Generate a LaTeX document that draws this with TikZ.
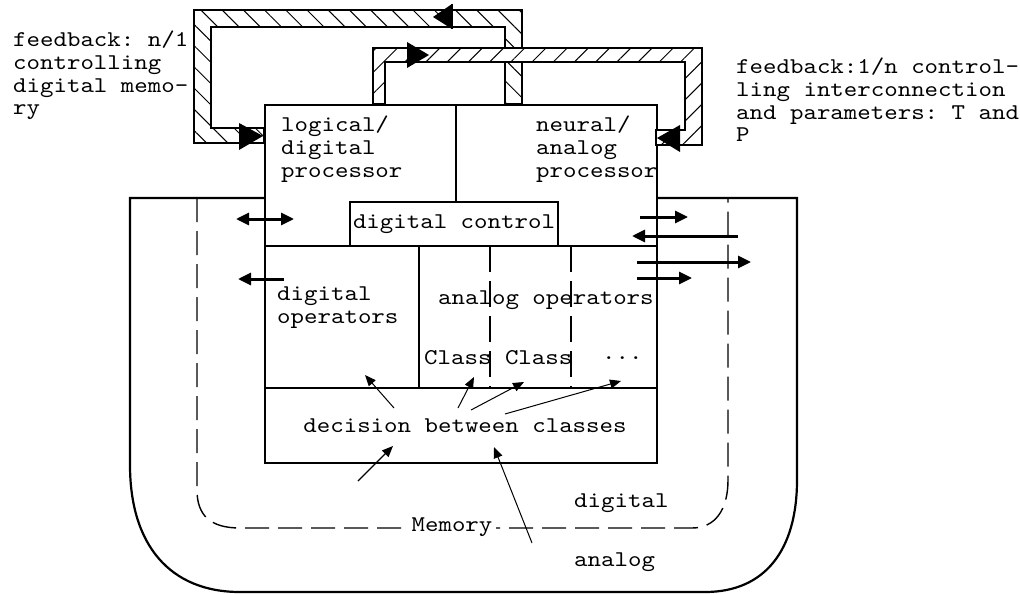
\documentclass[tikz,border=0pt]{standalone}
\usepackage{fontspec}
\setmonofont{lmmono10-regular.otf}[FakeStretch=1.14]
\usetikzlibrary{arrows.meta,patterns.meta}
\newcommand\dfont{\ttfamily\fontsize{22.5}{22.6}\selectfont}
\begin{document}
\begin{tikzpicture}[x=1pt,y=-1pt,
  txt/.style={font=\dfont,inner sep=0pt,align=left},
  fineline/.style={line width=1.1pt},
  heavy/.style={line width=2.4pt},
  fatarrow/.style={line width=3pt,-{Triangle[length=13pt,width=12pt]}},
  fatboth/.style={line width=3pt,{Triangle[length=13pt,width=12pt]}-{Triangle[length=13pt,width=12pt]}},
  thinarrow/.style={line width=1pt,-{Triangle[length=11pt,width=9pt]}},
  bandL/.style={fill=white,postaction={pattern={Lines[angle=-45,distance=15pt,line width=1pt]}}},
  bandR/.style={fill=white,postaction={pattern={Lines[angle=45,distance=15pt,line width=1pt]}}},
  memdash/.style={line width=1.4pt,dash pattern=on 24pt off 9pt},
  opdash/.style={line width=1.1pt,dash pattern=on 26pt off 9pt},
]
\useasboundingbox (0,0) rectangle (1020,594);
\fill[white] (0,0) rectangle (1020,594);

% analog memory (solid outer shape)
\draw[line width=2.2pt] (264,198) -- (130,198) -- (130,465)
  .. controls (130,545) and (170,592) .. (240,592) -- (705,592)
  .. controls (765,592) and (797,550) .. (797,480) -- (797,198) -- (656,198);

% digital memory (dashed)
\draw[memdash] (197,198) -- (197,490)
  .. controls (197,515) and (210,528) .. (240,528) -- (692,528)
  .. controls (715,528) and (728,510) .. (728,480) -- (728,198);
\node[txt,fill=white,inner xsep=4pt] (mem) at (452,527) {Memory};
\node[txt,anchor=west] (dig) at (574,503) {digital};
\node[txt,anchor=west] (ana) at (574,562) {analog};

% processor box
\node[draw,heavy,fill=white,minimum width=392pt,minimum height=358pt,inner sep=0pt,anchor=north west] (proc) at (264,104) {};
\draw[fineline] (456,104) -- (456,202);
\node[draw,fineline,minimum width=208pt,minimum height=44pt,inner sep=0pt,font=\dfont] (dctl) at (454,224) {digital control};
\draw[fineline] (264,246) -- (656,246);
\draw[fineline] (419,246) -- (419,388);
\draw[opdash] (490,246) -- (490,388);
\draw[opdash] (571,246) -- (571,388);
\draw[fineline] (264,388) -- (656,388);

\node[txt,anchor=north west] (logp) at (281,116) {logical/\\digital\\processor};
\node[txt,anchor=north west] (neup) at (536,116) {neural/\\analog\\processor};
\node[txt,anchor=north west] (dops) at (277,287) {digital\\operators};
\node[txt,anchor=west] (aops) at (438,300) {analog operators};
\node[txt,anchor=west] (cls) at (424,358) {Class Class};
\node[txt,anchor=west] (dots) at (602,358) {...};
\node[txt] (dec) at (465,426) {decision between classes};

% feedback bands
\path[bandL,draw,line width=1.4pt] (522,104) -- (522,10) -- (194,10) -- (194,143) -- (264,143)
  -- (264,128) -- (211,128) -- (211,27) -- (505,27) -- (505,104) -- cycle;
\path[bandR,draw,line width=1.4pt] (373,104) -- (373,48) -- (702,48) -- (702,145) -- (656,145)
  -- (656,130) -- (685,130) -- (685,62) -- (385,62) -- (385,104) -- cycle;
\fill (452,4) -- (452,29) -- (433,17) -- cycle;
\draw[line width=2.5pt] (452,4) -- (452,29);
\fill (407,42) -- (407,68) -- (429,55) -- cycle;
\fill (239,123) -- (239,150) -- (263,136) -- cycle;
\fill (680,125) -- (680,152) -- (657,138) -- cycle;

\node[txt,anchor=north west] (fbl) at (13,31) {feedback: n/1\\controlling\\digital memo-\\ry};
\node[txt,anchor=north west] (fbr) at (736,58) {feedback:1/n control-\\ling interconnection\\and parameters: T and\\P};

% side arrows
\coordinate (la1) at (236,219); \coordinate (la2) at (294,219);
\coordinate (lb1) at (284,279); \coordinate (lb2) at (238,279);
\coordinate (ra1) at (640,217); \coordinate (ra2) at (688,217);
\coordinate (rb1) at (738,236); \coordinate (rb2) at (632,236);
\coordinate (rc1) at (637,262); \coordinate (rc2) at (751,262);
\coordinate (rd1) at (637,278); \coordinate (rd2) at (692,278);
\draw[fatboth] (la1) -- (la2);
\draw[fatarrow] (lb1) -- (lb2);
\draw[fatarrow] (ra1) -- (ra2);
\draw[fatarrow] (rb1) -- (rb2);
\draw[fatarrow] (rc1) -- (rc2);
\draw[fatarrow] (rd1) -- (rd2);

% decision arrows
\coordinate (t1) at (394,408); \coordinate (h1) at (365,375);
\coordinate (t2) at (458,408); \coordinate (h2) at (474,377);
\coordinate (t3) at (471,410); \coordinate (h3) at (524,382);
\coordinate (t4) at (505,414); \coordinate (h4) at (621,381);
\coordinate (t5) at (358,481); \coordinate (h5) at (393,446);
\coordinate (t6) at (532,543); \coordinate (h6) at (494,447);
\draw[thinarrow] (t1) -- (h1);
\draw[thinarrow] (t2) -- (h2);
\draw[thinarrow] (t3) -- (h3);
\draw[thinarrow] (t4) -- (h4);
\draw[thinarrow,line width=1.4pt] (t5) -- (h5);
\draw[thinarrow] (t6) -- (h6);
\end{tikzpicture}
\end{document}
